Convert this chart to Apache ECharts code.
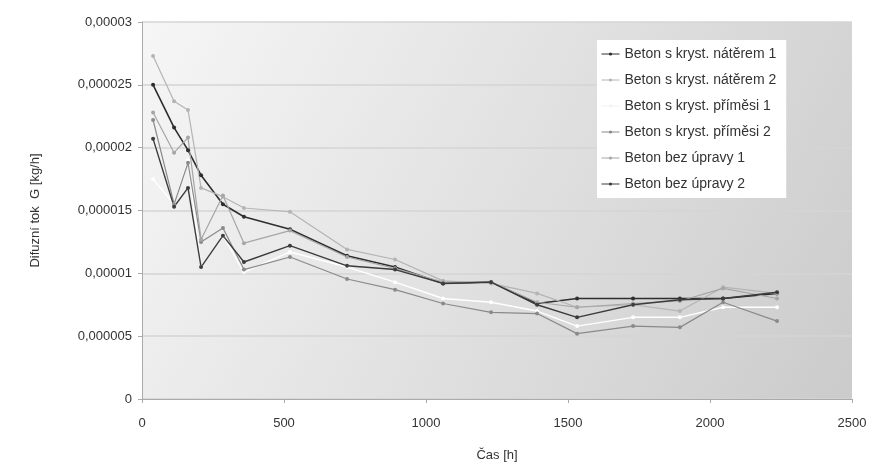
<!DOCTYPE html>
<html>
<head>
<meta charset="utf-8">
<script src="https://cdn.jsdelivr.net/npm/echarts@6/dist/echarts.min.js"></script>
<style>html,body{margin:0;padding:0;background:#fff}#c{width:877px;height:467px}</style>
</head>
<body>
<div id="c"></div>
<script>
// time [h]
const times = [39,113,162,208,285,359,521,722,891,1060,1229,1391,1532,1729,1894,2046,2236];
// diffusion flux G [kg/h]
const naterem1 = [2.50e-5,2.16e-5,1.98e-5,1.78e-5,1.55e-5,1.45e-5,1.35e-5,1.14e-5,1.05e-5,0.92e-5,0.93e-5,0.76e-5,0.80e-5,0.80e-5,0.80e-5,0.80e-5,0.84e-5];
const naterem2 = [2.73e-5,2.37e-5,2.30e-5,1.68e-5,1.61e-5,1.52e-5,1.49e-5,1.19e-5,1.11e-5,0.94e-5,0.92e-5,0.84e-5,0.73e-5,0.75e-5,0.70e-5,0.89e-5,0.84e-5];
const primesi1 = [1.75e-5,1.55e-5,1.90e-5,1.05e-5,1.30e-5,1.01e-5,1.17e-5,1.05e-5,0.93e-5,0.80e-5,0.77e-5,0.70e-5,0.58e-5,0.65e-5,0.65e-5,0.73e-5,0.73e-5];
const primesi2 = [2.22e-5,1.55e-5,1.88e-5,1.25e-5,1.36e-5,1.03e-5,1.13e-5,0.955e-5,0.87e-5,0.76e-5,0.69e-5,0.68e-5,0.52e-5,0.58e-5,0.57e-5,0.77e-5,0.62e-5];
const bezUpravy1 = [2.28e-5,1.96e-5,2.08e-5,1.27e-5,1.62e-5,1.24e-5,1.34e-5,1.13e-5,1.04e-5,0.93e-5,0.93e-5,0.77e-5,0.73e-5,0.76e-5,0.78e-5,0.88e-5,0.80e-5];
const bezUpravy2 = [2.07e-5,1.53e-5,1.68e-5,1.05e-5,1.30e-5,1.09e-5,1.22e-5,1.06e-5,1.03e-5,0.92e-5,0.93e-5,0.75e-5,0.65e-5,0.75e-5,0.79e-5,0.80e-5,0.85e-5];

const seriesNames = ['Beton s kryst. nátěrem 1','Beton s kryst. nátěrem 2','Beton s kryst. příměsi 1','Beton s kryst. příměsi 2','Beton bez úpravy 1','Beton bez úpravy 2'];
const seriesData = [naterem1, naterem2, primesi1, primesi2, bezUpravy1, bezUpravy2];
const seriesColors = ['#2e2e2e','#b4b4b4','#ffffff','#8a8a8a','#a6a6a6','#3c3c3c'];
const seriesWidths = [1.6,1.2,1.4,1.2,1.2,1.4];

const chart = echarts.init(document.getElementById('c'));
const fmt = v => {
  if (v === 0) return '0';
  let s = v.toFixed(6).replace(/0+$/,'').replace(/\.$/,'');
  return s.replace('.', ',');
};
chart.setOption({
  animation: false,
  backgroundColor: '#ffffff',
  textStyle: {fontFamily: 'Liberation Sans, Arial, sans-serif'},
  grid: {
    left: 142, right: 25, top: 22, bottom: 68,
    show: true,
    borderWidth: 0,
    backgroundColor: new echarts.graphic.LinearGradient(0, 0, 1, 1, [
      {offset: 0, color: '#f6f6f6'},
      {offset: 1, color: '#cbcbcb'}
    ])
  },
  legend: {
    orient: 'vertical',
    left: 597, top: 40,
    width: 230,
    backgroundColor: '#ffffff',
    padding: [6, 10, 6, 4],
    itemWidth: 18, itemHeight: 4, itemGap: 10,
    textStyle: {fontSize: 14, color: '#333', lineHeight: 16},
    data: seriesNames.map((n,i) => ({name: n, itemStyle: i === 2 ? {color: '#f2f2f2'} : undefined, lineStyle: i === 2 ? {color: '#f2f2f2', width: 1} : {width: 1}}))
  },
  xAxis: {
    type: 'value', min: 0, max: 2500, interval: 500,
    name: 'Čas [h]', nameLocation: 'middle', nameGap: 50,
    nameTextStyle: {fontSize: 13, color: '#333'},
    axisLine: {show: true, lineStyle: {color: '#aaaaaa'}},
    axisTick: {show: true, length: 4, lineStyle: {color: '#aaaaaa'}},
    axisLabel: {fontSize: 13, color: '#333', margin: 18, formatter: v => String(v)},
    splitLine: {show: false}
  },
  yAxis: {
    type: 'value', min: 0, max: 0.00003, interval: 0.000005,
    name: 'Difuzní tok  G [kg/h]', nameLocation: 'middle', nameGap: 100,
    nameTextStyle: {fontSize: 13, color: '#333'},
    axisLine: {show: true, lineStyle: {color: '#aaaaaa'}},
    axisTick: {show: true, length: 4, lineStyle: {color: '#aaaaaa'}},
    axisLabel: {fontSize: 13, color: '#333', margin: 10, formatter: fmt},
    splitLine: {show: true, lineStyle: {color: '#d4d4d4', width: 1.5}}
  },
  series: seriesNames.map((n, i) => ({
    name: n,
    type: 'line',
    data: times.map((t, j) => [t, seriesData[i][j]]),
    symbol: 'circle',
    symbolSize: 4,
    color: seriesColors[i],
    lineStyle: {width: seriesWidths[i], color: seriesColors[i]},
    itemStyle: {color: seriesColors[i]}
  }))
});
</script>
</body>
</html>
